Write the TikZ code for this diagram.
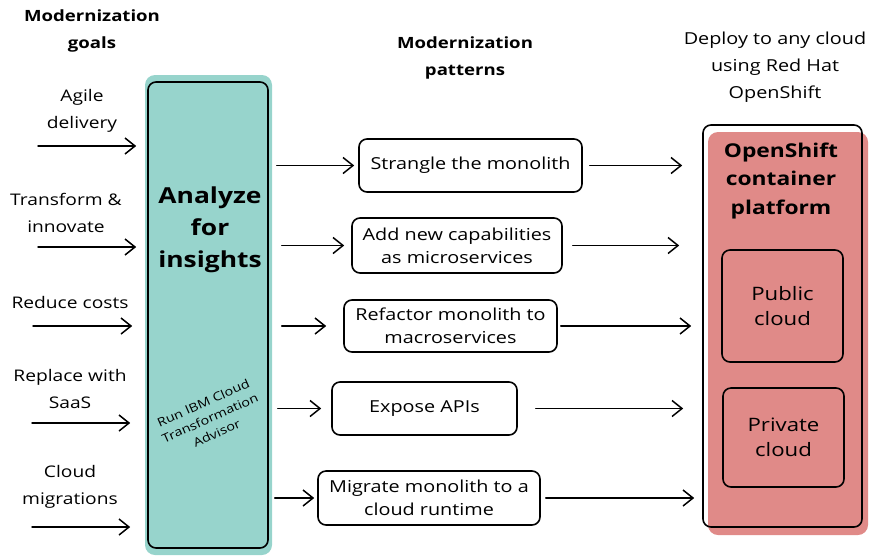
\documentclass[tikz,border=0pt]{standalone}
\usepackage{fontspec}
\setmainfont[FakeStretch=1.2]{Open Sans}
\usetikzlibrary{arrows.meta}
\definecolor{tealfill}{RGB}{151,212,204}
\definecolor{redfill}{RGB}{224,138,136}
\begin{document}
\begin{tikzpicture}[x=1pt,y=-1pt,
  lbl/.style={align=center,inner sep=0,font=\fontsize{16}{27}\selectfont},
  hdr/.style={align=center,inner sep=0,font=\fontsize{15.5}{27}\selectfont\bfseries},
  big/.style={align=center,inner sep=0,font=\fontsize{22}{32}\selectfont\bfseries},
  small/.style={align=center,inner sep=0,font=\fontsize{12}{16.5}\selectfont},
  pbox/.style={draw,line width=1.6pt,rounded corners=8pt,align=center,inner sep=0,
    font=\fontsize{16.5}{23}\selectfont},
  cbox/.style={draw,line width=1.6pt,rounded corners=8pt,align=center,inner sep=0,
    font=\fontsize{18.5}{25}\selectfont},
  arr/.style={line width=1.5pt,line cap=round,
    -{Straight Barb[length=10pt,width=16pt,line width=1.5pt]}}
]
\useasboundingbox (0,0) rectangle (880,558);

% headers
\node[hdr] (h1) at (92,31) {Modernization\\goals};
\node[hdr] (h2) at (465,58) {Modernization\\patterns};
\node[lbl,font=\fontsize{16.5}{27}\selectfont] (h3) at (775,67) {Deploy to any cloud\\using Red Hat\\OpenShift};

% teal column
\fill[tealfill,rounded corners=10pt] (145,75) rectangle (272,555);
\node[draw,line width=1.6pt,rounded corners=8pt,minimum width=120pt,minimum height=466pt,inner sep=0] (analyze) at (208,315) {};
\node[big] (ana) at (210,230) {Analyze\\for\\insights};
\node[small,rotate=24] (tadv) at (210,418) {Run IBM Cloud\\Transformation\\Advisor};

% red column
\fill[redfill,rounded corners=10pt] (708,132) rectangle (868,535);
\node[draw,line width=1.6pt,rounded corners=8pt,minimum width=159pt,minimum height=402pt,inner sep=0] (ocp) at (782.5,326) {};
\node[align=center,inner sep=0,font=\fontsize{19}{28.5}\selectfont\bfseries] (ocpt) at (781,181) {OpenShift\\container\\platform};
\node[cbox,minimum width=121pt,minimum height=112pt] (pub) at (782.5,306) {Public\\cloud};
\node[cbox,minimum width=121pt,minimum height=99pt] (priv) at (783.5,437.5) {Private\\cloud};

% goals
\node[lbl] (g1t) at (82,110.5) {Agile\\delivery};
\node[lbl] (g2t) at (66,212.5) {Transform \&\\innovate};
\node[lbl] (g3t) at (70,302) {Reduce costs};
\node[lbl] (g4t) at (70,389) {Replace with\\SaaS};
\node[lbl] (g5t) at (70,486.5) {Cloud\\migrations};
\coordinate (g1) at (38,146);
\coordinate (g2) at (38,247);
\coordinate (g3) at (33,326);
\coordinate (g4) at (32,423);
\coordinate (g5) at (32,527);
\draw[arr,shorten >=11pt] (g1) -- (g1 -| analyze.west);
\draw[arr,shorten >=11pt] (g2) -- (g2 -| analyze.west);
\draw[arr,shorten >=15pt] (g3) -- (g3 -| analyze.west);
\draw[arr,shorten >=17pt] (g4) -- (g4 -| analyze.west);
\draw[arr,shorten >=17pt] (g5) -- (g5 -| analyze.west);

% patterns
\node[pbox,minimum width=223pt,minimum height=53pt] (p1) at (470.5,165.5) {Strangle the monolith};
\node[pbox,minimum width=210pt,minimum height=55pt] (p2) at (457,245.5) {Add new capabilities\\as microservices};
\node[pbox,minimum width=213pt,minimum height=52pt] (p3) at (450.5,326) {Refactor monolith to\\macroservices};
\node[pbox,minimum width=185pt,minimum height=53pt] (p4) at (424.5,408.5) {Expose APIs};
\node[pbox,minimum width=222pt,minimum height=54pt] (p5) at (429,498) {Migrate monolith to a\\cloud runtime};

% in arrows
\draw[arr,shorten <=8pt,shorten >=4pt] (analyze.east |- p1.west) -- (p1.west);
\draw[arr,shorten <=13pt,shorten >=7pt] (analyze.east |- p2.west) -- (p2.west);
\draw[arr,shorten <=13pt,shorten >=17pt] (analyze.east |- p3.west) -- (p3.west);
\draw[arr,shorten <=9pt,shorten >=10pt] (analyze.east |- p4.west) -- (p4.west);
\draw[arr,shorten <=6pt,shorten >=3pt] (analyze.east |- p5.west) -- (p5.west);

% out arrows
\draw[arr,shorten <=7pt,shorten >=20pt] (p1.east) -- (p1.east -| ocp.west);
\draw[arr,shorten <=10pt,shorten >=23pt] (p2.east) -- (p2.east -| ocp.west);
\draw[arr,shorten <=3pt,shorten >=11pt] (p3.east) -- (p3.east -| ocp.west);
\draw[arr,shorten <=18pt,shorten >=19pt] (p4.east) -- (p4.east -| ocp.west);
\draw[arr,shorten <=5pt,shorten >=8pt] (p5.east) -- (p5.east -| ocp.west);
\end{tikzpicture}
\end{document}
